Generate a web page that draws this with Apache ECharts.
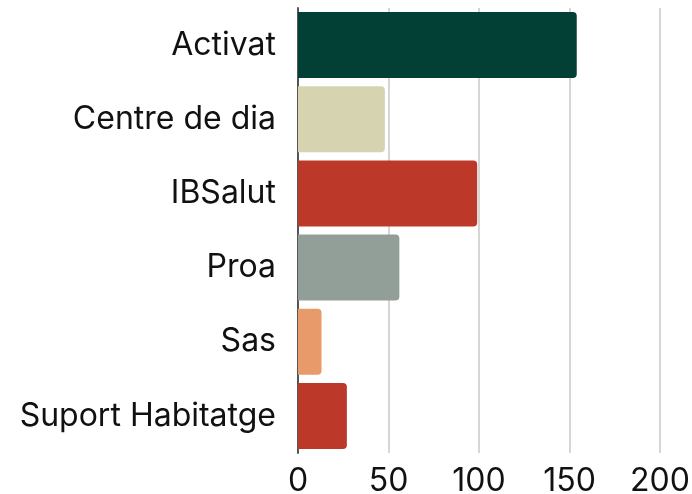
<!DOCTYPE html>
<html>
<head>
<meta charset="utf-8">
<script src="https://cdn.jsdelivr.net/npm/echarts@6/dist/echarts.min.js"></script>
<style>
  html, body { margin: 0; padding: 0; background: #fff; }
  #chart { width: 692px; height: 494px; }
</style>
</head>
<body>
<div id="chart"></div>
<script>
// categories and values
var categories = ['Activat', 'Centre de dia', 'IBSalut', 'Proa', 'Sas', 'Suport Habitatge'];
var values = [154, 48, 99, 56, 13, 27];
var colors = ['#024035', '#d6d4b0', '#bc3828', '#929f99', '#e99a6a', '#bc3828'];
var xTicks = [0, 50, 100, 150, 200];

var font = 'Inter, "Noto Sans", sans-serif';

echarts.init(document.getElementById('chart')).setOption({
    animation: false,
    grid: { left: 298, right: 32, top: 8, bottom: 41, outerBoundsMode: 'none' },
    xAxis: {
        type: 'value',
        min: xTicks[0],
        max: xTicks[xTicks.length - 1],
        interval: 50,
        axisLine: { show: false },
        axisTick: { show: false },
        splitLine: { lineStyle: { color: '#c8c8c8', width: 1.5 } },
        axisLabel: { color: '#111', fontSize: 32, fontFamily: font, margin: 12 }
    },
    yAxis: {
        type: 'category',
        inverse: true,
        data: categories,
        axisLine: { lineStyle: { color: '#555', width: 2 } },
        axisTick: { show: false },
        axisLabel: { color: '#111', fontSize: 32, fontFamily: font, margin: 22 }
    },
    series: [{
        type: 'bar',
        barCategoryGap: '11%',
        data: values.map(function (v, i) {
            return { value: v, itemStyle: { color: colors[i] } };
        }),
        itemStyle: { borderRadius: [0, 4, 4, 0] }
    }]
});
</script>
</body>
</html>
